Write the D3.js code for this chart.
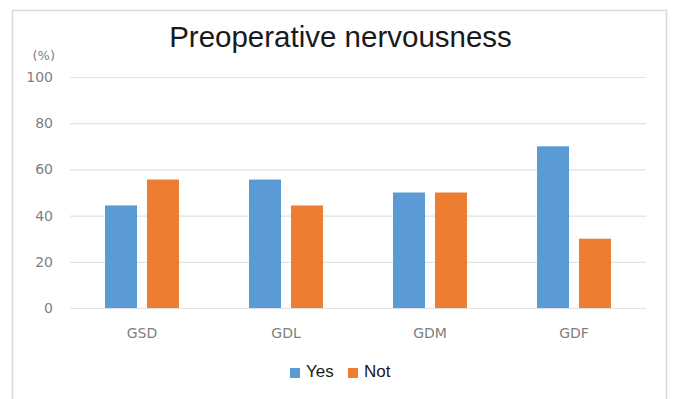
<!DOCTYPE html>
<html>
<head>
<meta charset="utf-8">
<script src="https://cdn.jsdelivr.net/npm/d3@7"></script>
<style>
  body { margin: 0; background: #fff; }
</style>
</head>
<body>
<svg id="chart"></svg>
<script>
// data
const categories = ['GSD', 'GDL', 'GDM', 'GDF'];
const series = ['Yes', 'Not'];
const yesValues = [44.4, 55.6, 50, 70];
const notValues = [55.6, 44.4, 50, 30];
const yTicks = [0, 20, 40, 60, 80, 100];
const colors = ['#5b9bd5', '#ed7d31'];

const width = 673, height = 399;
const margin = {top: 77, right: 27, bottom: 91, left: 70};

const svg = d3.select('#chart')
  .attr('width', width)
  .attr('height', height);

// frame
svg.append('rect')
  .attr('x', 12.5).attr('y', 10.5)
  .attr('width', 654).attr('height', 400)
  .attr('fill', '#fff')
  .attr('stroke', '#d9d9d9')
  .attr('stroke-width', 1.5);

const xScale = d3.scaleBand()
  .domain(categories)
  .range([margin.left, width - margin.right]);

const xSub = d3.scaleBand()
  .domain(series)
  .range([0, xScale.bandwidth()])
  .paddingInner(0.238)
  .paddingOuter(0.833);

const yScale = d3.scaleLinear()
  .domain([0, 100])
  .range([height - margin.bottom, margin.top]);

const color = d3.scaleOrdinal().domain(series).range(colors);

// gridlines + y labels
const yAxis = d3.axisLeft(yScale)
  .tickValues(yTicks)
  .tickSize(-(width - margin.left - margin.right))
  .tickPadding(17);

svg.append('g')
  .attr('transform', `translate(${margin.left},0)`)
  .call(yAxis)
  .call(g => g.select('.domain').remove())
  .call(g => g.selectAll('.tick line').attr('stroke', '#e2e2e2').attr('stroke-width', 1.2))
  .call(g => g.selectAll('.tick text')
    .attr('fill', '#7f7f7f')
    .style('font-family', 'DejaVu Sans')
    .style('font-size', '14px'));

// x labels
const xAxis = d3.axisBottom(xScale).tickSize(0).tickPadding(20);
svg.append('g')
  .attr('transform', `translate(0,${height - margin.bottom})`)
  .call(xAxis)
  .call(g => g.select('.domain').remove())
  .call(g => g.selectAll('.tick text')
    .attr('fill', '#7f7f7f')
    .style('font-family', 'DejaVu Sans')
    .style('font-size', '14px'));

// bars
const rows = categories.map((c, i) => ({cat: c, values: [
  {key: 'Yes', value: yesValues[i]},
  {key: 'Not', value: notValues[i]}
]}));

svg.append('g')
  .selectAll('g')
  .data(rows)
  .join('g')
    .attr('transform', d => `translate(${xScale(d.cat)},0)`)
  .selectAll('rect')
  .data(d => d.values)
  .join('rect')
    .attr('x', d => xSub(d.key))
    .attr('y', d => yScale(d.value))
    .attr('width', xSub.bandwidth())
    .attr('height', d => yScale(0) - yScale(d.value))
    .attr('fill', d => color(d.key));

// unit label
svg.append('text')
  .attr('x', 55).attr('y', 60)
  .attr('text-anchor', 'end')
  .attr('fill', '#7f7f7f')
  .style('font-family', 'DejaVu Sans')
  .style('font-size', '13px')
  .text('(%)');

// title
svg.append('text')
  .attr('x', 340.5).attr('y', 47)
  .attr('text-anchor', 'middle')
  .attr('fill', '#1a1a1a')
  .style('font-family', 'Liberation Sans')
  .style('font-size', '29.5px')
  .text('Preoperative nervousness');

// legend
const legendX = [290, 348];
const legend = svg.append('g');
series.forEach((s, i) => {
  legend.append('rect')
    .attr('x', legendX[i]).attr('y', 368)
    .attr('width', 10).attr('height', 10)
    .attr('fill', colors[i]);
  legend.append('text')
    .attr('x', legendX[i] + 16).attr('y', 377)
    .attr('fill', '#1a1a1a')
    .style('font-family', 'Liberation Sans')
    .style('font-size', '17px')
    .text(s);
});
</script>
</body>
</html>
